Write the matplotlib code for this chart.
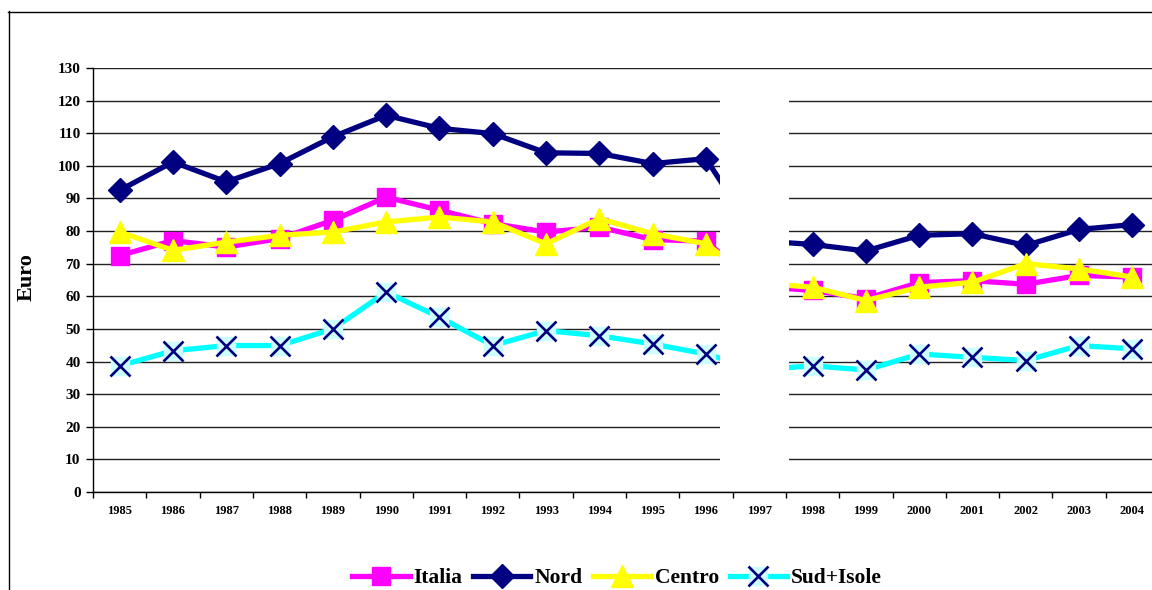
import matplotlib
matplotlib.use("Agg")
import matplotlib.pyplot as plt
from matplotlib.lines import Line2D
from matplotlib.patches import Rectangle
from matplotlib.legend_handler import HandlerTuple

years = [str(y) for y in range(1985, 2005)]

italia = [72.5, 77.1, 75.1, 77.7, 83.3, 90.4, 86.4, 82.3, 79.7, 81.2,
          77.4, 76.9, 63.0, 61.8, 59.3, 64.2, 64.8, 63.7, 66.4, 65.9]
nord = [92.5, 101.2, 95.1, 100.7, 108.9, 115.5, 111.5, 109.9, 104.0, 103.8,
        100.7, 102.2, 77.0, 75.9, 73.9, 78.7, 79.2, 75.6, 80.5, 82.0]
centro = [79.7, 74.1, 76.6, 78.7, 79.7, 82.8, 84.3, 82.8, 76.1, 83.8,
          79.2, 76.1, 64.0, 62.8, 58.7, 62.8, 64.3, 70.0, 68.4, 65.9]
sud_isole = [38.7, 43.3, 44.9, 44.9, 50.0, 61.3, 53.6, 44.9, 49.5, 47.9,
             45.4, 42.3, 37.5, 38.7, 37.4, 42.3, 41.3, 40.3, 44.9, 43.9]

y_ticks = list(range(0, 131, 10))
missing_year = "1997"

serif = ["Liberation Serif", "DejaVu Serif"]

W, H = 1152, 590
fig = plt.figure(figsize=(W / 100, H / 100), dpi=100)
fig.patch.set_facecolor("white")

# outer chart frame (left and top edges visible)
fig.add_artist(Line2D([8.5 / W, 8.5 / W], [0, 1 - 11 / H], transform=fig.transFigure,
                      color="black", lw=1.0))
fig.add_artist(Line2D([8 / W, 1.0], [1 - 11.5 / H, 1 - 11.5 / H], transform=fig.transFigure,
                      color="black", lw=1.0))

ax = fig.add_axes([93 / W, 1 - 492 / H, 1066 / W, 424 / H])
x = list(range(len(years)))

lw = 3.8
style_it = dict(color="#FF00FF", lw=lw, marker="s", ms=12.5,
                markerfacecolor="#FF00FF", markeredgecolor="#FF00FF")
style_no = dict(color="#000080", lw=lw, marker="D", ms=12,
                markerfacecolor="#000080", markeredgecolor="#000080")
style_ce = dict(color="#FFFF00", lw=lw, marker="^", ms=15.5,
                markerfacecolor="#FFFF00", markeredgecolor="#FFFF00")
style_su = dict(color="#00FFFF", lw=lw, marker="s", ms=13.5,
                markerfacecolor="#CCFFFF", markeredgecolor="#CCFFFF")
style_su_x = dict(ls="none", marker="x", ms=14, mew=1.9, color="#000080")

ax.plot(x, italia, zorder=3, clip_on=False, **style_it)
ax.plot(x, nord, zorder=3, clip_on=False, **style_no)
ax.plot(x, centro, zorder=3, clip_on=False, **style_ce)
ax.plot(x, sud_isole, zorder=3, clip_on=False, **style_su)
ax.plot(x, sud_isole, zorder=3, clip_on=False, **style_su_x)

# blank band over the year without data
i_miss = years.index(missing_year)
ax.add_patch(Rectangle((i_miss - 0.74, 0.8), 1.3, 128.5, facecolor="white",
                       edgecolor="none", zorder=4))

ax.set_xlim(-0.5, len(years) - 0.5)
ax.set_ylim(0, 130)

ax.set_yticks(y_ticks)
ax.set_yticklabels([str(v) for v in y_ticks], fontfamily=serif, fontweight="bold", fontsize=11)
ax.yaxis.grid(True, color="#222222", lw=1.0, zorder=1)
ax.set_axisbelow(True)

ax.set_xticks([i - 0.5 for i in range(len(years) + 1)])
ax.set_xticklabels([])
ax.set_xticks(x, minor=True)
ax.set_xticklabels(years, minor=True, fontfamily=serif, fontweight="bold", fontsize=9)
ax.tick_params(axis="x", which="major", length=4, width=1, direction="out", color="black")
ax.tick_params(axis="x", which="minor", length=0, pad=9)
ax.tick_params(axis="y", length=5, width=1, direction="out", pad=4, color="black")

for side in ("top", "right"):
    ax.spines[side].set_visible(False)
for side in ("left", "bottom"):
    ax.spines[side].set_color("black")
    ax.spines[side].set_linewidth(1.0)
    ax.spines[side].set_zorder(5)

fig.text(27 / W, 1 - 277 / H, "Euro", rotation=90, ha="center", va="center",
         fontfamily=serif, fontweight="bold", fontsize=16)

h_it = Line2D([], [], **style_it)
h_no = Line2D([], [], **style_no)
h_ce = Line2D([], [], **style_ce)
h_su_bg = Line2D([], [], **style_su)
h_su_x = Line2D([], [], **style_su_x)

fig.legend([h_it, h_no, h_ce, (h_su_bg, h_su_x)],
           ["Italia", "Nord", "Centro", "Sud+Isole"],
           handler_map={tuple: HandlerTuple(ndivide=1)},
           loc="center", bbox_to_anchor=(617 / W, 1 - 578 / H), ncol=4,
           frameon=False, handlelength=2.65, handletextpad=0.19, columnspacing=0.5,
           borderaxespad=0, borderpad=0,
           prop={"family": serif, "weight": "bold", "size": 15.5})

fig.savefig("out.png", dpi=100)
